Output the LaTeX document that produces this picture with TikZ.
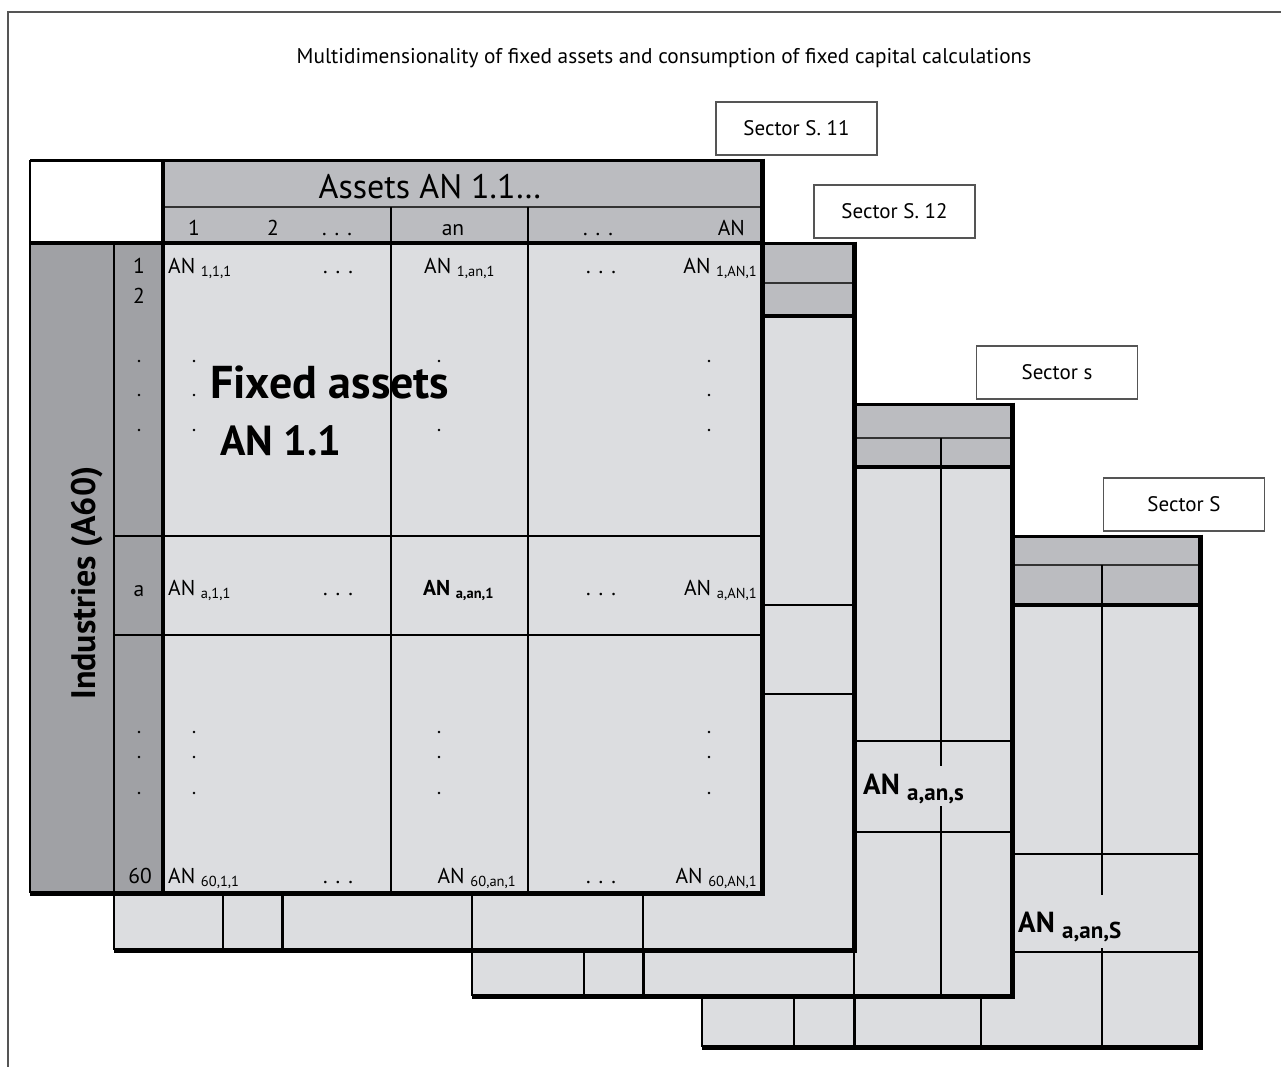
\documentclass[tikz,border=0pt]{standalone}
\usepackage{fontspec}
\setmainfont{PT Sans}
\definecolor{hdrc}{RGB}{187,188,192}
\definecolor{darkc}{RGB}{160,161,165}
\definecolor{bodyc}{RGB}{220,221,224}
\definecolor{framec}{RGB}{85,85,85}
\newcommand\smsub[1]{\raisebox{-3.5pt}{\fontsize{14.5}{15}\selectfont #1}}
\newcommand\smsubb[1]{\raisebox{-3.5pt}{\fontsize{14.5}{15}\selectfont\bfseries #1}}
\newcommand\bgsub[1]{\raisebox{-6pt}{\fontsize{23}{24}\selectfont\bfseries #1}}
\newcommand\hdots{.\hspace{8pt}.\hspace{8pt}.}
\begin{document}
\begin{tikzpicture}[x=1pt,y=-1pt,
  thinl/.style={line width=1.7pt,black},
  rowl/.style={line width=1.8pt,black!80},
  medl/.style={line width=3pt,black},
  hdrl/.style={line width=3.5pt,black},
  topl/.style={line width=3pt,black},
  edgel/.style={line width=5pt,black,line join=miter},
  secbox/.style={draw=framec,line width=1.6pt,fill=white,minimum width=161pt,minimum height=53pt,inner sep=0pt,font=\fontsize{21}{23}\selectfont},
  cell/.style={inner sep=0pt,font=\fontsize{21.5}{23}\selectfont},
  dotc/.style={fill=black,draw=none},
]
\useasboundingbox (0,0) rectangle (1281,1066);
\fill[white] (0,0) rectangle (1281,1066);

% ---------- sheet 4 (Sector S)
\fill[bodyc] (702,536) rectangle (1200,1047);
\fill[hdrc] (702,536) rectangle (1200,605);
\draw[rowl] (702,565) -- (1200,565);
\draw[thinl] (1102,565) -- (1102,895) (1102,948) -- (1102,1047);
\draw[thinl] (702,854) -- (1200,854) (702,952) -- (1200,952);
\draw[thinl] (794,996) -- (794,1047) (981,996) -- (981,1047);
\draw[medl] (854,996) -- (854,1047);
\draw[hdrl] (702,605) -- (1200,605);
\draw[thinl] (702,536) -- (702,1047);
\draw[topl] (702,536) -- (1200,536);
\draw[edgel] (1200,534.5) -- (1200,1047) -- (702,1047);

% ---------- sheet 3 (Sector s)
\fill[bodyc] (472,404) rectangle (1012,996);
\fill[hdrc] (472,404) rectangle (1012,467);
\draw[rowl] (472,438) -- (1012,438);
\draw[thinl] (941,438) -- (941,766) (941,806) -- (941,996);
\draw[thinl] (472,741) -- (1012,741) (472,832) -- (1012,832);
\draw[thinl] (584,950) -- (584,996) (854,950) -- (854,996);
\draw[medl] (643,950) -- (643,996);
\draw[hdrl] (472,467) -- (1012,467);
\draw[thinl] (472,404) -- (472,996);
\draw[topl] (472,404) -- (1012,404);
\draw[edgel] (1012,402.5) -- (1012,996) -- (472,996);

% ---------- sheet 2 (Sector S. 12)
\fill[bodyc] (114,243) rectangle (854,950);
\fill[hdrc] (114,243) rectangle (854,316);
\draw[rowl] (114,283) -- (854,283);
\draw[thinl] (114,605) -- (854,605) (114,694) -- (854,694);
\draw[thinl] (223,893) -- (223,950) (472,893) -- (472,950) (643,893) -- (643,950);
\draw[medl] (282,893) -- (282,950);
\draw[hdrl] (114,316) -- (854,316);
\draw[thinl] (114,243) -- (114,950);
\draw[topl] (114,243) -- (854,243);
\draw[edgel] (854,241.5) -- (854,950) -- (114,950);

% ---------- sheet 1 (Sector S. 11)
\fill[white] (30,160) rectangle (163,243);
\fill[hdrc] (163,160) rectangle (762,243);
\fill[darkc] (30,243) rectangle (163,893);
\fill[bodyc] (163,243) rectangle (762,893);
\draw[rowl] (163,207) -- (762,207);
\draw[thinl] (391,207) -- (391,893) (528,207) -- (528,893);
\draw[thinl] (114,243) -- (114,893);
\draw[thinl] (114,536) -- (762,536) (114,635) -- (762,635);
\draw[thinl] (30,160) -- (30,893);
\draw[topl] (30,160) -- (762,160);
\draw[hdrl] (30,243) -- (762,243);
\draw[hdrl] (163,160) -- (163,893);
\draw[edgel] (762,158.5) -- (762,893) -- (30,893);

% ---------- headings of sheet 1
\node[inner sep=0pt,anchor=base,font=\fontsize{34}{36}\selectfont] (assets) at (430,198) {Assets AN 1.1…};
\node[cell,anchor=base] (h1) at (194,235) {1};
\node[cell,anchor=base] (h2) at (273,235) {2};
\node[cell,anchor=base] (h3) at (337,235) {\hdots};
\node[cell,anchor=base] (h4) at (453,235) {an};
\node[cell,anchor=base] (h5) at (598,235) {\hdots};
\node[cell,anchor=base east] (h6) at (745,235) {AN};

% row labels
\node[cell,anchor=base] (r1) at (139,273) {1};
\node[cell,anchor=base] (r2) at (139,303) {2};
\node[cell,anchor=base] (ra) at (139,596) {a};
\node[cell,anchor=base] (r60) at (140,883) {60};

% cells row 1
\node[cell,anchor=base west] (c11) at (168,273) {AN \smsub{1,1,1}};
\node[cell,anchor=base] (c12) at (338,273) {\hdots};
\node[cell,anchor=base west] (c13) at (424,273) {AN \smsub{1,an,1}};
\node[cell,anchor=base] (c14) at (601,273) {\hdots};
\node[cell,anchor=base east] (c15) at (757,273) {AN \smsub{1,AN,1}};
% cells row a
\node[cell,anchor=base west] (ca1) at (168,595) {AN \smsub{a,1,1}};
\node[cell,anchor=base] (ca2) at (338,595) {\hdots};
\node[cell,anchor=base west] (ca3) at (423,595) {\bfseries AN \smsubb{a,an,1}};
\node[cell,anchor=base] (ca4) at (601,595) {\hdots};
\node[cell,anchor=base east] (ca5) at (757,595) {AN \smsub{a,AN,1}};
% cells row 60
\node[cell,anchor=base west] (cz1) at (168,883) {AN \smsub{60,1,1}};
\node[cell,anchor=base] (cz2) at (338,883) {\hdots};
\node[cell,anchor=base east] (cz3) at (516,883) {AN \smsub{60,an,1}};
\node[cell,anchor=base] (cz4) at (601,883) {\hdots};
\node[cell,anchor=base east] (cz5) at (757,883) {AN \smsub{60,AN,1}};

% vertical dots
\foreach \xx in {139,194,709} {
  \foreach \yy in {361,395,430} { \fill[dotc] (\xx,\yy) circle (1.4pt); }
}
\fill[dotc] (439,361) circle (1.4pt);
\fill[dotc] (439,430) circle (1.4pt);
\foreach \xx in {139,194,439,709} {
  \foreach \yy in {732,757,793} { \fill[dotc] (\xx,\yy) circle (1.4pt); }
}

% big labels
\node[inner sep=0pt,anchor=base west,font=\fontsize{46}{48}\selectfont\bfseries] (fa) at (210,398) {Fixed assets};
\node[inner sep=0pt,anchor=base west,font=\fontsize{42}{44}\selectfont\bfseries] (fan) at (220,455) {AN 1.1};
\node[inner sep=0pt,rotate=90,font=\fontsize{34}{36}\selectfont\bfseries] (ind) at (87,583) {Industries (A60)};
\node[inner sep=0pt,anchor=base west,font=\fontsize{29}{31}\selectfont\bfseries] (ans) at (863,794) {AN \bgsub{a,an,s}};
\node[inner sep=0pt,anchor=base west,font=\fontsize{29}{31}\selectfont\bfseries] (anS) at (1018,932) {AN \bgsub{a,an,S}};

% sector boxes
\node[secbox] (s11) at (796.5,128.5) {Sector S. 11};
\node[secbox] (s12) at (894.5,211.5) {Sector S. 12};
\node[secbox] (ss) at (1057,372.5) {Sector s};
\node[secbox] (sS) at (1184,504.5) {Sector S};

% title
\node[inner sep=0pt,font=\fontsize{21.3}{23}\selectfont] (title) at (664,58) {Multidimensionality of fixed assets and consumption of fixed capital calculations};

% frame
\draw[framec,line width=2pt] (8,1070) -- (8,12) -- (1290,12);
\end{tikzpicture}
\end{document}
